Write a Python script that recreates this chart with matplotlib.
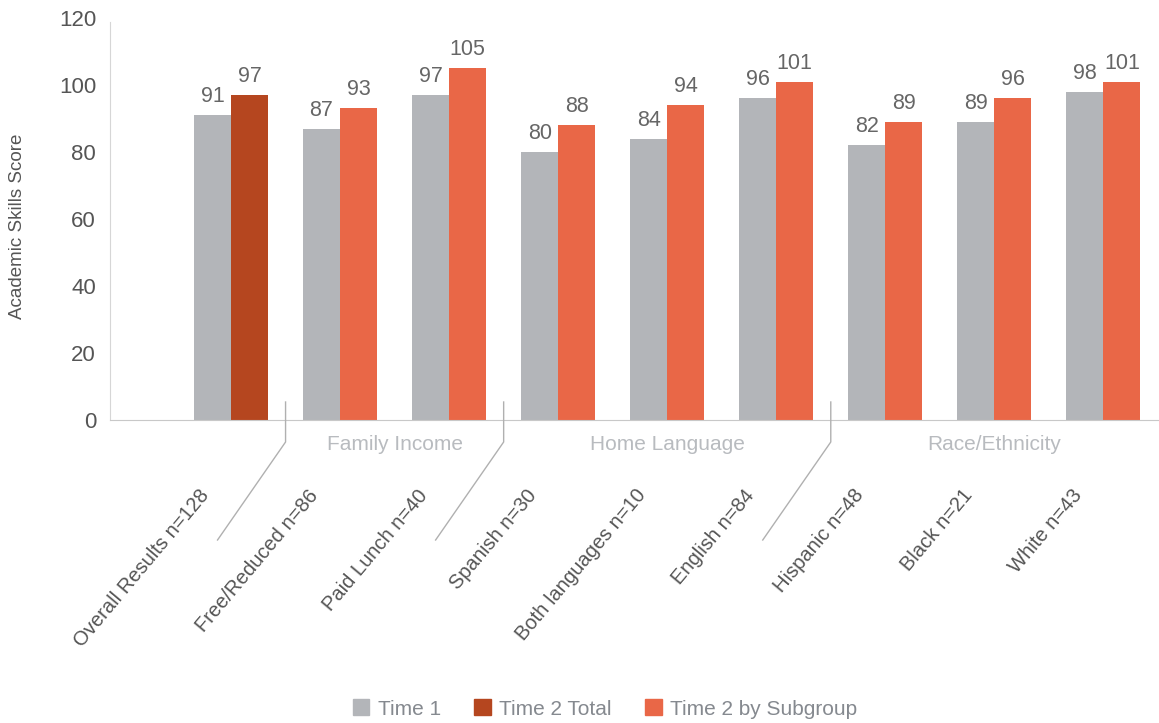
import matplotlib
matplotlib.use("Agg")
import matplotlib.pyplot as plt
from matplotlib.patches import Patch

plt.rcParams['font.family'] = ['Liberation Sans', 'DejaVu Sans']

# Data
categories = ["Overall Results n=128", "Free/Reduced n=86", "Paid Lunch n=40",
              "Spanish n=30", "Both languages n=10", "English n=84",
              "Hispanic n=48", "Black n=21", "White n=43"]
time1 = [91, 87, 97, 80, 84, 96, 82, 89, 98]
time2 = [97, 93, 105, 88, 94, 101, 89, 96, 101]
groups = ["Family Income", "Home Language", "Race/Ethnicity"]
group_spans = [(1, 2), (3, 5), (6, 8)]
separators = [0.5, 2.5, 5.5]
yticks = [0, 20, 40, 60, 80, 100, 120]

GREY = "#b3b5b9"
DARK = "#b5461f"
ORANGE = "#e96747"

fig = plt.figure(figsize=(11.59, 7.23), dpi=100)
ax = fig.add_axes([110 / 1159, 1 - 420 / 723, 1 - 110 / 1159, 402 / 723])

w = 0.34
x = list(range(len(categories)))
t2_colors = [DARK] + [ORANGE] * (len(categories) - 1)
ax.bar([i - w / 2 for i in x], time1, width=w, color=GREY, zorder=2)
ax.bar([i + w / 2 for i in x], time2, width=w, color=t2_colors, zorder=2)

for i in x:
    ax.annotate(f"{time1[i]}", (i - w / 2, time1[i]), xytext=(0, 8),
                textcoords="offset pixels", ha="center", va="bottom",
                fontsize=15.5, color="#666666")
    ax.annotate(f"{time2[i]}", (i + w / 2, time2[i]), xytext=(0, 8),
                textcoords="offset pixels", ha="center", va="bottom",
                fontsize=15.5, color="#666666")

ax.set_xlim(-1.11, 8.51)
ax.set_ylim(0, 120)
ax.set_yticks(yticks)
ax.set_yticklabels([str(v) for v in yticks], fontsize=16, color="#555555")
ax.tick_params(axis="y", length=0, pad=10)
ax.set_xticks([])
fig.text(18 / 1159, 1 - 226 / 723, "Academic Skills Score", rotation=90,
         ha="center", va="center", fontsize=13.5, color="#555555")

for s in ["top", "right"]:
    ax.spines[s].set_visible(False)
ax.spines["left"].set_color("#d6d6d6")
ax.spines["bottom"].set_color("#c8c8c8")
ax.spines["left"].set_bounds(0, 118.8)

# Rotated category labels
for i, lab in enumerate(categories):
    ax.annotate(lab, (i, 0), xytext=(-25, -72), textcoords="offset pixels",
                ha="right", va="center", rotation=50, rotation_mode="anchor",
                fontsize=14.5, color="#555555", annotation_clip=False)

# Group labels
for g, (a, b) in zip(groups, group_spans):
    ax.annotate(g, ((a + b) / 2, 0), xytext=(0, -24), textcoords="offset pixels",
                ha="center", va="center", fontsize=15, color="#b8bbbf",
                annotation_clip=False)

# Group separator lines (vertical tick then diagonal)
px_per_unit = 402 / 120
px_per_cat = 109
for s in separators:
    y_top = 18 / px_per_unit
    y_mid = -22 / px_per_unit
    y_bot = -120 / px_per_unit
    x_bot = s - 68 / px_per_cat
    ax.plot([s, s, x_bot], [y_top, y_mid, y_bot], color="#b0b0b0", lw=1.0,
            clip_on=False, zorder=3)

handles = [Patch(color=GREY, label="Time 1"),
           Patch(color=DARK, label="Time 2 Total"),
           Patch(color=ORANGE, label="Time 2 by Subgroup")]
leg = fig.legend(handles=handles, loc="center", bbox_to_anchor=(605 / 1159, 1 - 709 / 723),
                 ncol=3, frameon=False, fontsize=15, handlelength=0.8, handleheight=0.8,
                 handletextpad=0.4, columnspacing=1.6)
for t in leg.get_texts():
    t.set_color("#85898f")

fig.savefig("out.png", dpi=100)
